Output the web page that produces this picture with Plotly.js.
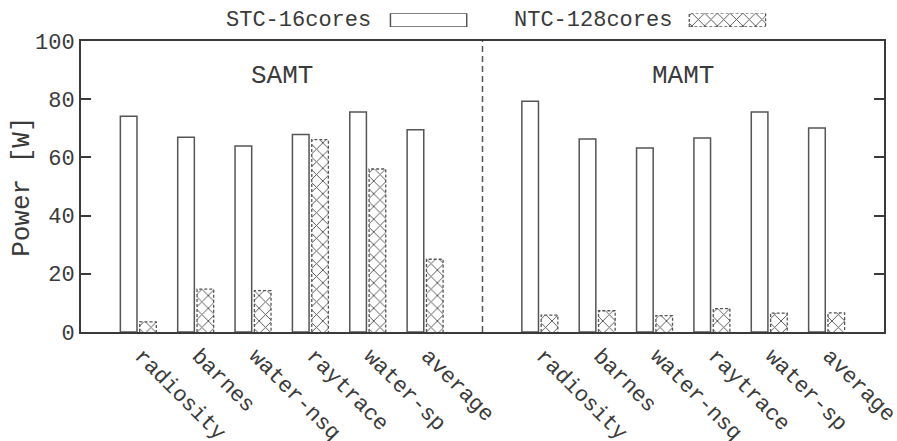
<!DOCTYPE html>
<html>
<head>
<meta charset="utf-8">
<script src="https://cdn.plot.ly/plotly-3.0.1.min.js"></script>
<style>
  html, body { margin: 0; padding: 0; background: #fff; }
  #chart { width: 897px; height: 441px; }
</style>
</head>
<body>
<div id="chart"></div>
<script>
// Benchmarks shown in each of the two groups
const apps = ['radiosity', 'barnes', 'water-nsq', 'raytrace', 'water-sp', 'average'];
const groupNames = ['SAMT', 'MAMT'];

// Power [W], STC with 16 cores vs. NTC with 128 cores
const samtSTC = [74.1, 66.9, 63.9, 67.9, 75.6, 69.5];
const samtNTC = [3.5, 14.7, 14.2, 66.1, 56.0, 25.0];
const mamtSTC = [79.3, 66.3, 63.2, 66.7, 75.6, 70.1];
const mamtNTC = [5.8, 7.3, 5.6, 8.0, 6.5, 6.6];

const seriesNames = ['STC-16cores', 'NTC-128cores'];
const yTicks = [0, 20, 40, 60, 80, 100];

// Layout of slots: SAMT apps, one empty slot holding the divider, MAMT apps
const gapSlot = apps.length;
const samtX = apps.map((_, i) => i);
const mamtX = apps.map((_, i) => i + gapSlot + 1);
const allX = samtX.concat(mamtX);
const allLabels = apps.concat(apps);
const stcVals = samtSTC.concat(mamtSTC);
const ntcVals = samtNTC.concat(mamtNTC);

const FONT = 'Liberation Mono, Courier New, monospace';
const INK = '#3a3a3a';
const BAR_W = 0.29;
const STC_OFF = -0.314;
const NTC_OFF = 0.023;

const hatch = { shape: 'x', size: 9, solidity: 0.2, fgcolor: '#555', bgcolor: '#fff', fillmode: 'replace' };

// dashed outline path around each hatched bar
function outline(xs, vals, off, w) {
  const px = [], py = [];
  xs.forEach((x, i) => {
    px.push(x + off, x + off, x + off + w, x + off + w, null);
    py.push(0, vals[i], vals[i], 0, null);
  });
  return { x: px, y: py };
}
const ntcEdge = outline(allX, ntcVals, NTC_OFF, BAR_W);

const traces = [
  {
    type: 'bar', name: seriesNames[0], x: allX, y: stcVals,
    width: BAR_W, offset: STC_OFF,
    marker: { color: '#fff', line: { color: '#555', width: 1.5 } },
    hoverinfo: 'y'
  },
  {
    type: 'bar', name: seriesNames[1], x: allX, y: ntcVals,
    width: BAR_W, offset: NTC_OFF,
    marker: { color: '#fff', pattern: hatch, line: { width: 0 } },
    hoverinfo: 'y'
  },
  {
    type: 'scatter', mode: 'lines', x: ntcEdge.x, y: ntcEdge.y,
    line: { color: '#555', width: 1.3, dash: '3px,2px' },
    hoverinfo: 'skip', connectgaps: false
  }
];

// Key swatches drawn on a hidden strip of axes above the frame
const keyCenters = [5.06, 10.27];
const keyW = 1.33;
traces.push({
  type: 'bar', x: [keyCenters[0]], y: [1], base: 0, width: keyW,
  xaxis: 'x2', yaxis: 'y2',
  marker: { color: '#fff', line: { color: '#555', width: 1.5 } }, hoverinfo: 'skip'
});
traces.push({
  type: 'bar', x: [keyCenters[1]], y: [1], base: 0, width: keyW,
  xaxis: 'x2', yaxis: 'y2',
  marker: { color: '#fff', pattern: hatch, line: { width: 0 } }, hoverinfo: 'skip'
});
const keyEdge = outline([keyCenters[1]], [1], -keyW / 2, keyW);
traces.push({
  type: 'scatter', mode: 'lines', x: keyEdge.x.concat([keyCenters[1] - keyW / 2, keyCenters[1] + keyW / 2]),
  y: keyEdge.y.concat([0, 0]), xaxis: 'x2', yaxis: 'y2',
  line: { color: '#555', width: 1.3, dash: '3px,2px' }, hoverinfo: 'skip'
});

const layout = {
  width: 897, height: 441,
  margin: { l: 81, r: 13, t: 5, b: 109 },
  paper_bgcolor: '#fff', plot_bgcolor: '#fff',
  showlegend: false,
  barmode: 'overlay',
  font: { family: FONT, color: INK, size: 22 },
  xaxis: {
    range: [-1, allX[allX.length - 1] + 1],
    tickmode: 'array', tickvals: allX, ticktext: allLabels,
    tickangle: 45, ticks: '', ticklabelshift: 3, ticklabeloverflow: 'allow',
    tickfont: { family: FONT, size: 22, color: INK },
    showline: true, mirror: true, linecolor: INK, linewidth: 2,
    showgrid: false, zeroline: false, fixedrange: true
  },
  yaxis: {
    domain: [0, 0.89],
    range: [0, 100],
    tickmode: 'array', tickvals: yTicks,
    ticks: 'inside', ticklen: 10, tickwidth: 2, tickcolor: INK,
    tickfont: { family: FONT, size: 22, color: INK },
    showline: true, mirror: 'ticks', linecolor: INK, linewidth: 2,
    showgrid: false, zeroline: false, fixedrange: true
  },
  xaxis2: { domain: [0, 1], range: [-1, allX[allX.length - 1] + 1], anchor: 'y2', visible: false, fixedrange: true },
  yaxis2: { domain: [0.933, 0.975], range: [0, 1], anchor: 'x2', visible: false, fixedrange: true },
  shapes: [{
    type: 'line', xref: 'x', yref: 'y', x0: gapSlot, x1: gapSlot, y0: 0, y1: 100,
    line: { color: '#555', width: 1.5, dash: '6px,4px' }
  }],
  annotations: [
    { text: groupNames[0], xref: 'x', yref: 'y', x: (apps.length - 1) / 2, y: 88, showarrow: false,
      font: { family: FONT, size: 26, color: INK } },
    { text: groupNames[1], xref: 'x', yref: 'y', x: gapSlot + 1 + (apps.length - 1) / 2, y: 88, showarrow: false,
      font: { family: FONT, size: 26, color: INK } },
    { text: 'Power [W]', xref: 'paper', yref: 'paper', x: -0.073, y: 0.445, textangle: -90,
      xanchor: 'center', yanchor: 'middle', showarrow: false,
      font: { family: FONT, size: 26, color: INK } },
    { text: seriesNames[0], xref: 'paper', yref: 'paper', x: 0.364, y: 0.954,
      xanchor: 'right', yanchor: 'middle', showarrow: false,
      font: { family: FONT, size: 22, color: INK } },
    { text: seriesNames[1], xref: 'paper', yref: 'paper', x: 0.738, y: 0.954,
      xanchor: 'right', yanchor: 'middle', showarrow: false,
      font: { family: FONT, size: 22, color: INK } }
  ]
};

Plotly.newPlot('chart', traces, layout, { displayModeBar: false, staticPlot: true });
</script>
</body>
</html>
